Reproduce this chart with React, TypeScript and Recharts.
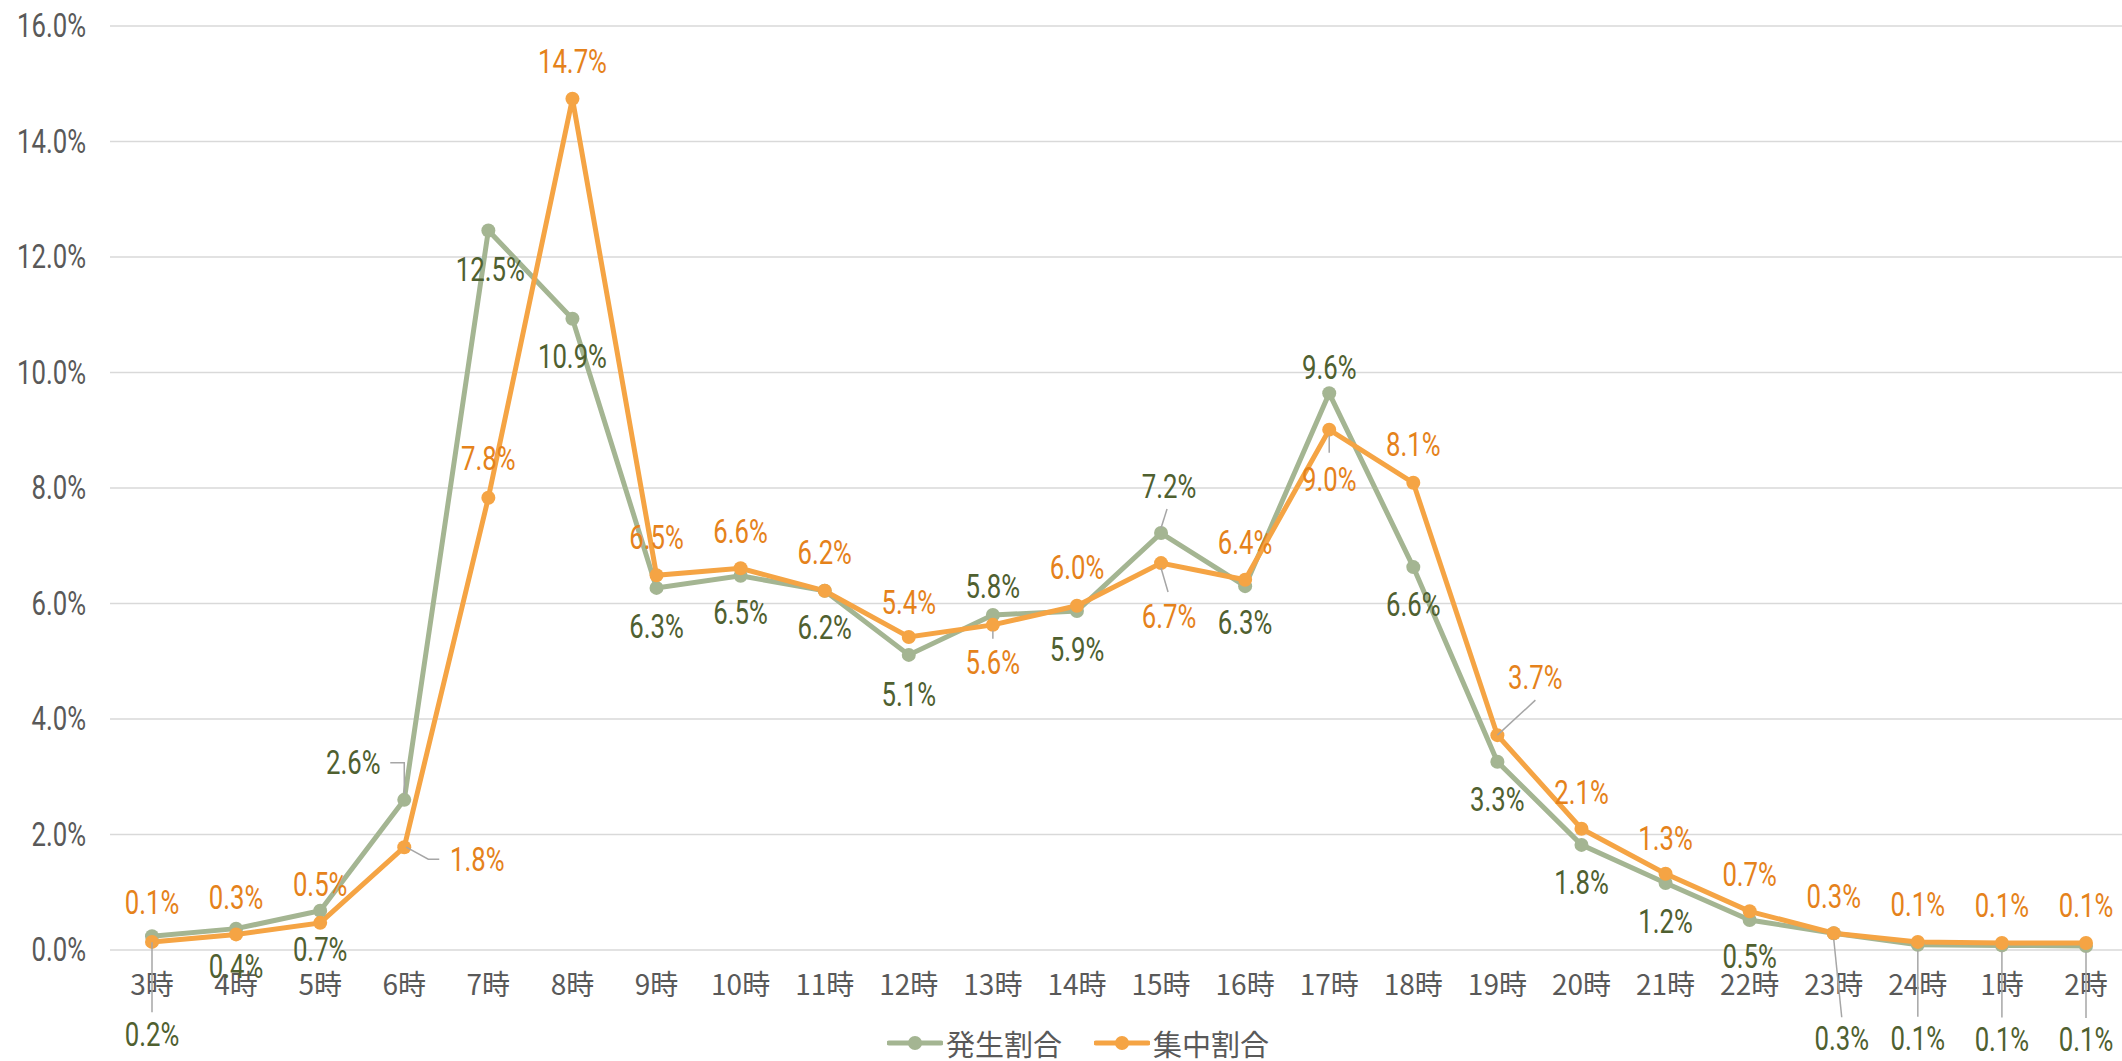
import React from 'react';
import { LineChart, Line, XAxis, YAxis, CartesianGrid, Legend, LabelList } from 'recharts';

const hours = ['3時', '4時', '5時', '6時', '7時', '8時', '9時', '10時', '11時', '12時', '13時', '14時', '15時', '16時', '17時', '18時', '19時', '20時', '21時', '22時', '23時', '24時', '1時', '2時'];
const generation = [0.24, 0.37, 0.68, 2.6, 12.46, 10.93, 6.27, 6.48, 6.22, 5.11, 5.8, 5.87, 7.22, 6.3, 9.64, 6.63, 3.26, 1.82, 1.16, 0.52, 0.29, 0.09, 0.08, 0.07];
const attraction = [0.14, 0.27, 0.47, 1.78, 7.83, 14.74, 6.49, 6.61, 6.22, 5.42, 5.63, 5.96, 6.7, 6.41, 9.01, 8.09, 3.72, 2.1, 1.32, 0.67, 0.29, 0.14, 0.12, 0.12];
const yTicks = [0, 2, 4, 6, 8, 10, 12, 14, 16];
const seriesNames = ['発生割合', '集中割合'];

const data = hours.map((h, i) => ({ hour: h, gen: generation[i], att: attraction[i] }));

// label placement (offset of label centre from its point) and leader lines
const genLabelOffset: [number, number][] = [
  [0, 99], [0, 38], [0, 39], [-51, -37], [2, 39], [0, 38], [0, 39], [0, 37], [0, 37], [0, 40],
  [0, -28], [0, 39], [8, -46], [0, 37], [0, -25], [0, 38], [0, 38], [0, 38], [0, 39], [0, 37],
  [8, 106], [0, 94], [0, 94], [0, 94],
];
const genLeaders: Record<number, [number, number][]> = {
  0: [[0, 6], [0, 76]],
  3: [[-14, -37], [0, -37], [0, -6]],
  12: [[0, -5], [6, -24]],
  20: [[0, 6], [8, 84]],
  21: [[0, 6], [0, 72]],
  22: [[0, 6], [0, 72]],
  23: [[0, 6], [0, 72]],
};
const attLabelOffset: [number, number][] = [
  [0, -39], [0, -37], [0, -38], [73, 13], [0, -39], [0, -37], [0, -37], [0, -36], [0, -38], [0, -34],
  [0, 38], [0, -38], [8, 54], [0, -37], [0, 50], [0, -38], [38, -57], [0, -36], [0, -35], [0, -36],
  [0, -36], [0, -37], [0, -37], [0, -37],
];
const attLeaders: Record<number, [number, number][]> = {
  3: [[2, 0], [24, 12], [35, 12]],
  10: [[0, 6], [0, 14]],
  12: [[0, 5], [7, 29]],
  14: [[0, 6], [0, 23]],
  16: [[0, 0], [38, -35]],
};

const GREEN_LINE = '#A4B592';
const ORANGE_LINE = '#F5A444';
const GREEN_TEXT = '#4F6030';
const ORANGE_TEXT = '#E5821B';
const TICK_TEXT = '#595959';
const GRID = '#D9D9D9';
const LEADER = '#A6A6A6';
const FONT = "'Noto Sans CJK JP', 'Noto Sans', sans-serif";
const NUM_FONT = "Roboto, 'Noto Sans', sans-serif";
const SX = 0.78;
const PCT_SIZE = 33;

const fmt = (v: number) => v.toFixed(1) + '%';

function makeLabel(offsets: [number, number][], leaders: Record<number, [number, number][]>, color: string) {
  return (props: any) => {
    const { x, y, value, index } = props;
    if (x == null || y == null) return null;
    const [dx, dy] = offsets[index] || [0, -38];
    const lead = leaders[index];
    return (
      <g key={`lbl-${color}-${index}`}>
        {lead && (
          <polyline
            points={lead.map(([a, b]) => `${x + a},${y + b}`).join(' ')}
            fill="none"
            stroke={LEADER}
            strokeWidth={1.5}
          />
        )}
        <text
          x={0}
          y={0}
          transform={`translate(${x + dx},${y + dy}) scale(${SX},1)`}
          textAnchor="middle"
          dominantBaseline="central"
          fill={color}
          fontSize={PCT_SIZE}
          fontFamily={NUM_FONT}
        >
          {fmt(Number(value))}
        </text>
      </g>
    );
  };
}

const YTick = (props: any) => {
  const { y, payload } = props;
  return (
    <text
      x={0}
      y={0}
      transform={`translate(86,${y}) scale(${SX},1)`}
      textAnchor="end"
      dominantBaseline="central"
      fill={TICK_TEXT}
      fontSize={PCT_SIZE}
      fontFamily={NUM_FONT}
    >
      {fmt(Number(payload.value))}
    </text>
  );
};

const XTick = (props: any) => {
  const { x, y, payload } = props;
  return (
    <text x={x} y={y + 37} textAnchor="middle" fill={TICK_TEXT} fontSize={28} fontFamily={FONT}>
      {payload.value}
    </text>
  );
};

const LegendContent = () => {
  const items = [
    { name: seriesNames[0], color: GREEN_LINE },
    { name: seriesNames[1], color: ORANGE_LINE },
  ];
  return (
    <div
      style={{
        height: 51,
        boxSizing: 'border-box',
        paddingTop: 15,
        display: 'flex',
        justifyContent: 'center',
        alignItems: 'center',
        marginLeft: 28,
        fontFamily: FONT,
      }}
    >
      {items.map((it, i) => (
        <div key={it.name} style={{ display: 'flex', alignItems: 'center', marginLeft: i === 0 ? 0 : 32 }}>
          <svg width={56} height={16} style={{ display: 'block' }}>
            <line x1={2} y1={8} x2={54} y2={8} stroke={it.color} strokeWidth={5} strokeLinecap="round" />
            <circle cx={28} cy={8} r={7} fill={it.color} />
          </svg>
          <span style={{ marginLeft: 3, fontSize: 29, color: TICK_TEXT, lineHeight: '30px' }}>{it.name}</span>
        </div>
      ))}
    </div>
  );
};

export default function App() {
  return (
    <div style={{ position: 'absolute', left: 0, top: 0, width: 2122, height: 1061, overflow: 'hidden', background: '#fff' }}>
      <LineChart width={2128} height={1061} data={data} margin={{ top: 26, right: 0, bottom: 0, left: 0 }}>
        <CartesianGrid vertical={false} stroke={GRID} strokeWidth={1.5} />
        <XAxis
          dataKey="hour"
          interval={0}
          axisLine={false}
          tickLine={false}
          height={60}
          padding={{ left: 42, right: 42 }}
          tick={<XTick />}
        />
        <YAxis
          domain={[0, 16]}
          ticks={yTicks}
          width={110}
          axisLine={false}
          tickLine={false}
          tick={<YTick />}
        />
        <Legend verticalAlign="bottom" height={51} content={<LegendContent />} />
        <Line
          type="linear"
          dataKey="gen"
          name={seriesNames[0]}
          stroke={GREEN_LINE}
          strokeWidth={5}
          dot={{ r: 7, fill: GREEN_LINE, stroke: 'none' }}
          activeDot={false}
          isAnimationActive={false}
        >
          <LabelList dataKey="gen" content={makeLabel(genLabelOffset, genLeaders, GREEN_TEXT)} />
        </Line>
        <Line
          type="linear"
          dataKey="att"
          name={seriesNames[1]}
          stroke={ORANGE_LINE}
          strokeWidth={5}
          dot={{ r: 7, fill: ORANGE_LINE, stroke: 'none' }}
          activeDot={false}
          isAnimationActive={false}
        >
          <LabelList dataKey="att" content={makeLabel(attLabelOffset, attLeaders, ORANGE_TEXT)} />
        </Line>
      </LineChart>
    </div>
  );
}
